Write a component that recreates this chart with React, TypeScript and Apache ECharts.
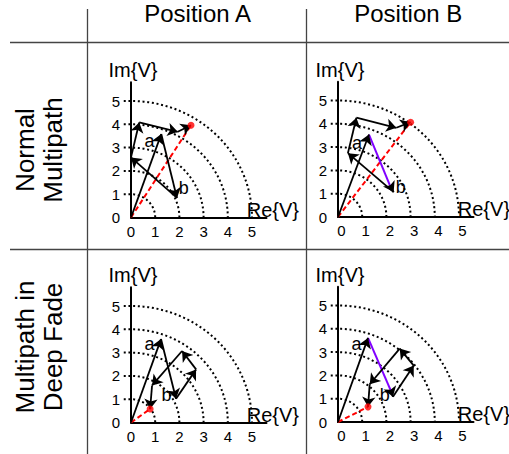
import React, { useEffect, useRef } from 'react';
import * as echarts from 'echarts';

const FONT = 'Liberation Sans, Arial, Helvetica, sans-serif';

const COLUMN_TITLES = ['Position A', 'Position B'];
const ROW_TITLES = ['Normal\nMultipath', 'Multipath in\nDeep Fade'];
const TICK_VALUES = [0, 1, 2, 3, 4, 5];
const ARC_RADII = [1, 2, 3, 4, 5];
const X_AXIS_NAME = 'Re{V}';
const Y_AXIS_NAME = 'Im{V}';

// Chained phasors (tip of each successive vector), starting at the origin.
const chainNormalA = [[0, 0], [1.25, 3.58], [1.9, 0.84], [0, 2.58], [0.34, 4.08], [1.93, 3.68], [2.48, 3.96]];
const chainNormalB = [[0, 0], [1.28, 3.54], [2.3, 1.07], [0.41, 2.74], [0.76, 4.26], [2.41, 3.83], [3.0, 4.07]];
const chainFadeA = [[0, 0], [1.24, 3.58], [1.86, 1.02], [2.69, 2.28], [2.11, 3.07], [0.87, 1.59], [0.79, 0.58]];
const chainFadeB = [[0, 0], [1.24, 3.61], [2.27, 1.08], [3.13, 2.42], [2.55, 3.15], [1.31, 1.62], [1.24, 0.65]];

// End of the purple (path-difference) stroke drawn along vector b in position B
const purpleEndNormalB = [2.14, 1.37];
const purpleEndFadeB = [2.2, 1.3];

// Label positions (data units)
const labelANormalA = [0.76, 3.29];
const labelBNormalA = [2.18, 1.27];
const labelANormalB = [0.79, 3.17];
const labelBNormalB = [2.59, 1.3];
const labelAFadeA = [0.76, 3.36];
const labelBFadeA = [1.47, 1.2];
const labelAFadeB = [0.76, 3.35];
const labelBFadeB = [1.93, 1.18];
const reLabelA = [5.86, 0.33];
const reLabelB = [6.03, 0.33];

const PANELS = [
  { chain: chainNormalA, purpleEnd: null, la: labelANormalA, lb: labelBNormalA, re: reLabelA, ox: 131, oy: 217.5, shiftX: 0 },
  { chain: chainNormalB, purpleEnd: purpleEndNormalB, la: labelANormalB, lb: labelBNormalB, re: reLabelB, ox: 338, oy: 217, shiftX: 7 },
  { chain: chainFadeA, purpleEnd: null, la: labelAFadeA, lb: labelBFadeA, re: reLabelA, ox: 131, oy: 422.5, shiftX: 0 },
  { chain: chainFadeB, purpleEnd: purpleEndFadeB, la: labelAFadeB, lb: labelBFadeB, re: reLabelB, ox: 338, oy: 422, shiftX: 7 },
];

const X_MAX = 5.6;
const Y_MAX = 5.8;
const UX = 24.2;
const UY = 23.3;

function buildOption() {
  const grid: any[] = [];
  const xAxis: any[] = [];
  const yAxis: any[] = [];
  const series: any[] = [];

  PANELS.forEach((p, i) => {
    grid.push({
      left: p.ox,
      top: p.oy - Y_MAX * UY,
      width: X_MAX * UX,
      height: Y_MAX * UY,
      containLabel: false,
    });
    const labelFmt = (v: number) => (TICK_VALUES.includes(v) ? String(v) : '');
    xAxis.push({
      gridIndex: i,
      type: 'value',
      min: 0,
      max: X_MAX,
      interval: 1,
      axisLine: { show: true, onZero: false, lineStyle: { color: '#000', width: 2 } },
      axisTick: { show: false },
      splitLine: { show: false },
      axisLabel: {
        fontSize: 15, color: '#000', margin: 6, fontFamily: FONT, showMaxLabel: false, formatter: labelFmt,
        padding: [0, 0, 0, p.shiftX],
      },
    });
    yAxis.push({
      gridIndex: i,
      type: 'value',
      min: 0,
      max: Y_MAX,
      interval: 1,
      name: Y_AXIS_NAME,
      nameLocation: 'end',
      nameGap: 2,
      nameTextStyle: { fontSize: 20, color: '#000', fontFamily: FONT, padding: [0, 0, 0, 4] },
      axisLine: { show: true, onZero: false, lineStyle: { color: '#000', width: 2 } },
      axisTick: { show: false },
      splitLine: { show: false },
      axisLabel: { fontSize: 15, color: '#000', margin: 11, fontFamily: FONT, showMaxLabel: false, formatter: labelFmt },
    });

    // dotted magnitude arcs
    series.push({
      type: 'custom',
      xAxisIndex: i,
      yAxisIndex: i,
      clip: false,
      silent: true,
      data: ARC_RADII.map((r) => [0, r]),
      encode: { x: 0, y: 1 },
      renderItem: (params: any, api: any) => {
        const r = api.value(1);
        const pts: number[][] = [api.coord([-0.3, r])];
        for (let deg = 90; deg >= 0; deg -= 2) {
          const t = (deg * Math.PI) / 180;
          pts.push(api.coord([r * Math.cos(t), r * Math.sin(t)]));
        }
        return {
          type: 'polyline',
          shape: { points: pts },
          style: { stroke: '#000', fill: null, lineWidth: 2, lineDash: [2, 2.7] },
        };
      },
    });

    // resultant (red dashed)
    const last = p.chain[p.chain.length - 1];
    series.push({
      type: 'lines',
      coordinateSystem: 'cartesian2d',
      xAxisIndex: i,
      yAxisIndex: i,
      symbol: ['none', 'none'],
      lineStyle: { color: '#ff0000', width: 2, type: [5, 3], opacity: 1, curveness: 0 },
      data: [{ coords: [p.chain[0], last] }],
      z: 3,
    });

    const blackSegs: any[] = [];
    for (let k = 0; k < p.chain.length - 1; k++) {
      if (p.purpleEnd && k === 1) {
        blackSegs.push({ coords: [p.purpleEnd, p.chain[k + 1]] });
      } else {
        blackSegs.push({ coords: [p.chain[k], p.chain[k + 1]] });
      }
    }
    // purple stroke
    if (p.purpleEnd) {
      series.push({
        type: 'lines',
        coordinateSystem: 'cartesian2d',
        xAxisIndex: i,
        yAxisIndex: i,
        symbol: ['none', 'none'],
        lineStyle: { color: '#8000ff', width: 2, opacity: 1, curveness: 0 },
        data: [{ coords: [p.chain[1], p.purpleEnd] }],
        z: 4,
      });
    }
    series.push({
      type: 'lines',
      coordinateSystem: 'cartesian2d',
      xAxisIndex: i,
      yAxisIndex: i,
      symbol: ['none', 'arrow'],
      symbolSize: 10,
      lineStyle: { color: '#000', width: 1.8, opacity: 1, curveness: 0 },
      data: blackSegs,
      z: 5,
    });

    // red dot
    series.push({
      type: 'scatter',
      xAxisIndex: i,
      yAxisIndex: i,
      symbolSize: 7,
      itemStyle: { color: '#ff0000' },
      data: [last],
      z: 6,
    });

    // text labels
    series.push({
      type: 'custom',
      xAxisIndex: i,
      yAxisIndex: i,
      clip: false,
      silent: true,
      data: [
        [p.la[0], p.la[1], 'a', 18],
        [p.lb[0], p.lb[1], 'b', 18],
        [p.re[0], p.re[1], X_AXIS_NAME, 20],
      ],
      encode: { x: 0, y: 1 },
      renderItem: (params: any, api: any) => {
        const pt = api.coord([api.value(0), api.value(1)]);
        const item = params.dataIndex;
        const row = [
          [p.la, 'a', 18],
          [p.lb, 'b', 18],
          [p.re, X_AXIS_NAME, 20],
        ][item] as any;
        return {
          type: 'text',
          x: pt[0],
          y: pt[1],
          style: {
            text: row[1],
            fill: '#000',
            fontSize: row[2],
            fontFamily: FONT,
            align: 'center',
            verticalAlign: 'middle',
          },
        };
      },
      z: 7,
    });
  });

  const graphic: any[] = [
    { type: 'line', shape: { x1: 10, y1: 42.5, x2: 509, y2: 42.5 }, style: { stroke: '#444', lineWidth: 1.3 } },
    { type: 'line', shape: { x1: 10, y1: 249.5, x2: 509, y2: 249.5 }, style: { stroke: '#444', lineWidth: 1.3 } },
    { type: 'line', shape: { x1: 87.5, y1: 9, x2: 87.5, y2: 454 }, style: { stroke: '#444', lineWidth: 1.3 } },
    { type: 'line', shape: { x1: 306.5, y1: 9, x2: 306.5, y2: 454 }, style: { stroke: '#444', lineWidth: 1.3 } },
    {
      type: 'text', x: 197.6, y: 13,
      style: { text: COLUMN_TITLES[0], fontSize: 24, fontFamily: FONT, fill: '#000', align: 'center', verticalAlign: 'middle' },
    },
    {
      type: 'text', x: 408.3, y: 13,
      style: { text: COLUMN_TITLES[1], fontSize: 24, fontFamily: FONT, fill: '#000', align: 'center', verticalAlign: 'middle' },
    },
    {
      type: 'text', x: 38.5, y: 150, rotation: Math.PI / 2,
      style: { text: ROW_TITLES[0], fontSize: 26, lineHeight: 28, fontFamily: FONT, fill: '#000', align: 'center', verticalAlign: 'middle' },
    },
    {
      type: 'text', x: 38.5, y: 347, rotation: Math.PI / 2,
      style: { text: ROW_TITLES[1], fontSize: 26, lineHeight: 28, fontFamily: FONT, fill: '#000', align: 'center', verticalAlign: 'middle' },
    },
  ];

  return {
    animation: false,
    backgroundColor: '#fff',
    grid,
    xAxis,
    yAxis,
    series,
    graphic,
  };
}

export default function App() {
  const ref = useRef<HTMLDivElement>(null);
  useEffect(() => {
    if (!ref.current) return;
    const chart = echarts.init(ref.current, null, { renderer: 'svg' });
    chart.setOption(buildOption() as any);
    return () => chart.dispose();
  }, []);
  return (
    <div
      ref={ref}
      style={{ position: 'absolute', left: 0, top: 0, width: 509, height: 454 }}
    />
  );
}
